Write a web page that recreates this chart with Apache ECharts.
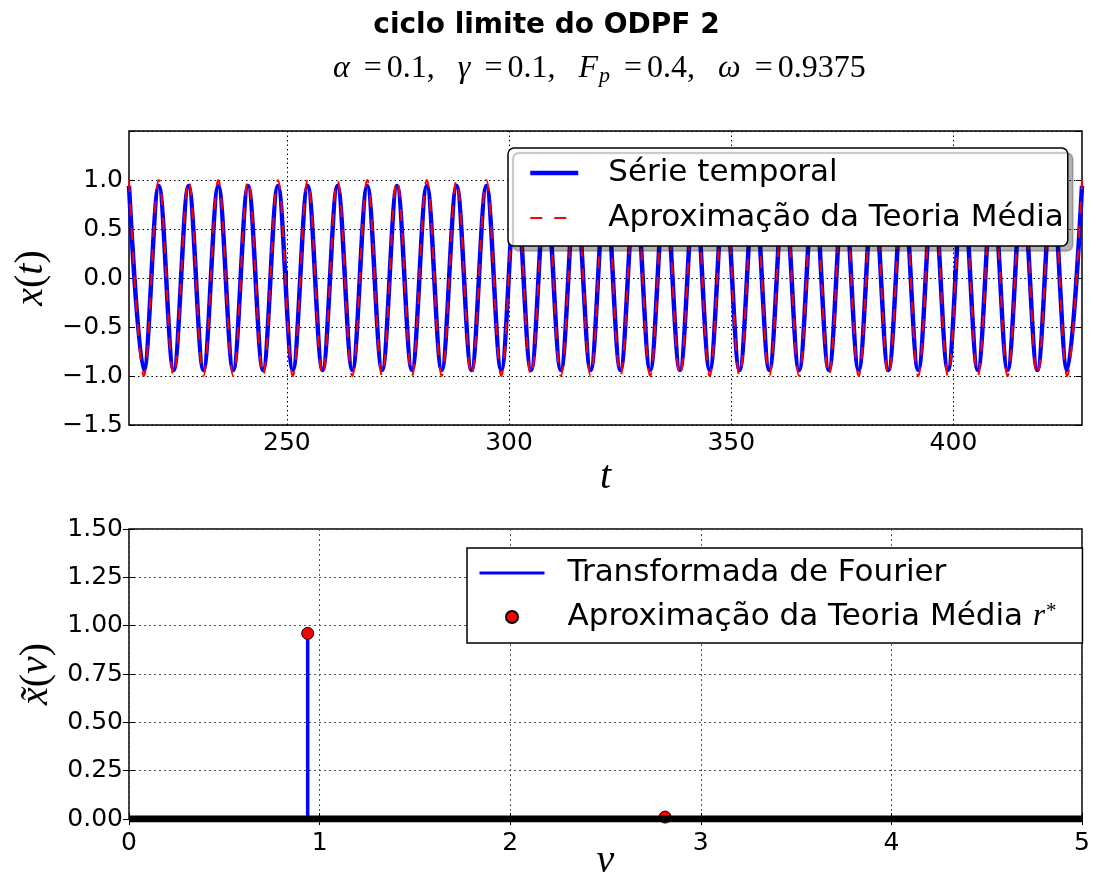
<!DOCTYPE html>
<html><head><meta charset="utf-8">
<script src="https://cdn.jsdelivr.net/npm/echarts@6/dist/echarts.min.js"></script>
<style>html,body{margin:0;padding:0;background:#fff}#c{width:1093px;height:880px}</style>
</head><body><div id="c"></div>
<script>
// ---- top panel: time series (times of successive maxima / minima) ----
const tExtrema = [
  214.47, 217.82, 221.17, 224.52, 227.87, 231.22, 234.57, 237.92, 241.27, 244.63,
  247.98, 251.33, 254.68, 258.03, 261.38, 264.73, 268.08, 271.43, 274.78, 278.14,
  281.49, 284.84, 288.19, 291.54, 294.89, 298.24, 301.59, 304.94, 308.30, 311.65,
  315.00, 318.35, 321.70, 325.05, 328.40, 331.75, 335.10, 338.45, 341.81, 345.16,
  348.51, 351.86, 355.21, 358.56, 361.91, 365.26, 368.61, 371.96, 375.32, 378.67,
  382.02, 385.37, 388.72, 392.07, 395.42, 398.77, 402.12, 405.48, 408.83, 412.18,
  415.53, 418.88, 422.23, 425.58, 428.93
];
const serieTemporal = [
  0.94,-0.94,0.94,-0.94,0.94,-0.94,0.94,-0.94,0.94,-0.94,
  0.94,-0.94,0.94,-0.94,0.94,-0.94,0.94,-0.94,0.94,-0.94,
  0.94,-0.94,0.94,-0.94,0.94,-0.94,0.94,-0.94,0.94,-0.94,
  0.94,-0.94,0.94,-0.94,0.94,-0.94,0.94,-0.94,0.94,-0.94,
  0.94,-0.94,0.94,-0.94,0.94,-0.94,0.94,-0.94,0.94,-0.94,
  0.94,-0.94,0.94,-0.94,0.94,-0.94,0.94,-0.94,0.94,-0.94,
  0.94,-0.94,0.94,-0.94,0.94
];
const aproxTeoriaMedia = [
  1.0,-1.0,1.0,-1.0,1.0,-1.0,1.0,-1.0,1.0,-1.0,
  1.0,-1.0,1.0,-1.0,1.0,-1.0,1.0,-1.0,1.0,-1.0,
  1.0,-1.0,1.0,-1.0,1.0,-1.0,1.0,-1.0,1.0,-1.0,
  1.0,-1.0,1.0,-1.0,1.0,-1.0,1.0,-1.0,1.0,-1.0,
  1.0,-1.0,1.0,-1.0,1.0,-1.0,1.0,-1.0,1.0,-1.0,
  1.0,-1.0,1.0,-1.0,1.0,-1.0,1.0,-1.0,1.0,-1.0,
  1.0,-1.0,1.0,-1.0,1.0
];
const tLimits = [214.47, 428.93];
const tTicks = [250, 300, 350, 400];
const xLimits = [-1.5, 1.5];
const xTicks = [-1.5, -1.0, -0.5, 0.0, 0.5, 1.0];

// ---- bottom panel: spectrum ----
const nuFourier = [0.9375, 0.9375];
const ampFourier = [0.0, 0.96];
const nuBase = [0, 5];
const ampBase = [0, 0];
const nuApprox = [0.9375, 2.8125];
const rApprox = [0.96, 0.01];
const nuLimits = [0, 5];
const ampLimits = [0, 1.5];

const zip = (a, b) => a.map((v, i) => [v, b[i]]);
const MINUS = '\u2212';
const tickFont = { fontFamily: 'DejaVu Sans', fontSize: 25, color: '#000' };
const mathName = size => ({
  fontFamily: 'Liberation Serif', fontSize: size, color: '#000', fontWeight: 'normal',
  rich: {
    i: { fontFamily: 'Liberation Serif', fontStyle: 'italic', fontWeight: 'normal', fontSize: size, color: '#000' },
    r: { fontFamily: 'Liberation Serif', fontWeight: 'normal', fontSize: size, color: '#000' }
  }
});

const chart = echarts.init(document.getElementById('c'), null, { renderer: 'canvas' });

const tickAxis = (grid, min, max, pos, interval, custom) => ({
  gridIndex: grid, type: 'value', min, max, interval, position: pos,
  axisLine: { show: false }, axisLabel: { show: false }, splitLine: { show: false },
  axisTick: Object.assign({ show: true, inside: true, length: 6, lineStyle: { color: '#000', width: 1 } },
    custom ? { customValues: custom } : {})
});

const subBase = { fontFamily: 'Liberation Serif', fontWeight: 'normal', fontSize: 32, color: '#000', lineHeight: 40 };
const subRich = {
  i: Object.assign({}, subBase, { fontStyle: 'italic' }),
  r: Object.assign({}, subBase),
  e: Object.assign({}, subBase, { padding: [0, 5, 0, 14] }),
  g: Object.assign({}, subBase, { padding: [0, 15, 0, 0] }),
  s: Object.assign({}, subBase, { fontStyle: 'italic', fontSize: 22, padding: [14, 0, 0, 1] })
};

const lineLegendItem = (name, width) => ({ name, itemStyle: { opacity: 0 }, lineStyle: { width } });

chart.setOption({
  animation: false,
  backgroundColor: '#fff',
  title: [
    { text: 'ciclo limite do ODPF 2', left: 'center', top: 7,
      textStyle: { fontFamily: 'DejaVu Sans', fontWeight: 'bold', fontSize: 28, color: '#000' } },
    { text: '{i|α}{e|=}{r|0.1,}{g| }{i|γ}{e|=}{r|0.1,}{g| }{i|F}{s|p}{e|=}{r|0.4,}{g| }{i|ω}{e|=}{r|0.9375}',
      left: 328, top: 44,
      textStyle: Object.assign({}, subBase, { rich: subRich }) }
  ],
  grid: [
    { left: 129, right: 11, top: 131, height: 294, show: true, borderColor: '#000', borderWidth: 1.5,
      backgroundColor: 'transparent', containLabel: false, outerBoundsMode: 'none' },
    { left: 129, right: 11, top: 529, height: 290, show: true, borderColor: '#000', borderWidth: 1.5,
      backgroundColor: 'transparent', containLabel: false, outerBoundsMode: 'none' }
  ],
  legend: [
    { data: [lineLegendItem('Série temporal', 4.5), lineLegendItem('Aproximação da Teoria Média', 2)],
      orient: 'vertical', left: 508, top: 148, selectedMode: false,
      padding: [7, 4, 10, 20], itemWidth: 48, itemHeight: 14, itemGap: 9,
      backgroundColor: '#fff', borderColor: '#000', borderWidth: 1.5, borderRadius: 6,
      shadowColor: 'rgba(0,0,0,0.3)', shadowOffsetX: 5, shadowOffsetY: 5, shadowBlur: 1,
      textStyle: { fontFamily: 'DejaVu Sans', fontSize: 31, color: '#000', lineHeight: 36, padding: [0, 0, 0, 25] } },
    { data: [lineLegendItem('Transformada de Fourier', 3), 'Aproximação da Teoria Média r*'],
      orient: 'vertical', left: 467, top: 548, selectedMode: false,
      padding: [7, 26, 8, 11], itemWidth: 65, itemHeight: 12, itemGap: 8,
      backgroundColor: '#fff', borderColor: '#000', borderWidth: 1.5, borderRadius: 0,
      formatter: name => name === 'Aproximação da Teoria Média r*'
        ? '{n|Aproximação da Teoria Média }{m|r}{s|*}' : name,
      textStyle: { fontFamily: 'DejaVu Sans', fontSize: 31, color: '#000', lineHeight: 36, padding: [0, 0, 0, 18],
        rich: {
          n: { fontFamily: 'DejaVu Sans', fontSize: 31, color: '#000', lineHeight: 36 },
          m: { fontFamily: 'Liberation Serif', fontStyle: 'italic', fontSize: 31, color: '#000', lineHeight: 36 },
          s: { fontFamily: 'Liberation Serif', fontSize: 21, color: '#000', lineHeight: 36, padding: [0, 0, 12, 1] }
        } } }
  ],
  xAxis: [
    { gridIndex: 0, type: 'value', min: tLimits[0], max: tLimits[1], position: 'bottom',
      axisLine: { show: false },
      axisTick: { show: true, inside: true, length: 6, customValues: tTicks, lineStyle: { color: '#000' } },
      axisLabel: Object.assign({ margin: 6, customValues: tTicks,
        formatter: v => (tTicks.indexOf(Math.round(v * 100) / 100) >= 0 ? String(v) : '') }, tickFont),
      splitLine: { show: true, lineStyle: { color: '#000', width: 1, type: [1.5, 3] } },
      name: '{i|t}', nameLocation: 'middle', nameGap: 32, nameTextStyle: mathName(40) },
    tickAxis(0, tLimits[0], tLimits[1], 'top', undefined, tTicks),
    { gridIndex: 1, type: 'value', min: nuLimits[0], max: nuLimits[1], interval: 1, position: 'bottom',
      axisLine: { show: false },
      axisTick: { show: true, inside: true, length: 6, lineStyle: { color: '#000' } },
      axisLabel: Object.assign({ margin: 12 }, tickFont),
      splitLine: { show: true, lineStyle: { color: '#555', width: 1, type: [2, 3] } },
      name: '{i|ν}', nameLocation: 'middle', nameGap: 22, nameMoveOverlap: false,
      nameTextStyle: mathName(40) },
    tickAxis(1, nuLimits[0], nuLimits[1], 'top', 1)
  ],
  yAxis: [
    { gridIndex: 0, type: 'value', min: xLimits[0], max: xLimits[1], interval: 0.5, position: 'left',
      axisLine: { show: false },
      axisTick: { show: true, inside: true, length: 6, lineStyle: { color: '#000' } },
      axisLabel: Object.assign({ margin: 6,
        formatter: v => (xTicks.indexOf(v) >= 0 ? v.toFixed(1).replace('-', MINUS) : '') }, tickFont),
      splitLine: { show: true, lineStyle: { color: '#000', width: 1, type: [1.5, 3] } },
      name: '{i|x}{r|(}{i|t}{r|)}', nameLocation: 'middle', nameRotate: 90, nameGap: 64,
      nameTextStyle: mathName(40) },
    tickAxis(0, xLimits[0], xLimits[1], 'right', 0.5),
    { gridIndex: 1, type: 'value', min: ampLimits[0], max: ampLimits[1], interval: 0.25, position: 'left',
      axisLine: { show: false },
      axisTick: { show: true, inside: true, length: 6, lineStyle: { color: '#000' } },
      axisLabel: Object.assign({ margin: 6, formatter: v => v.toFixed(2) }, tickFont),
      splitLine: { show: true, lineStyle: { color: '#555', width: 1, type: [2, 3] } },
      name: '{i|x̃}{r|(}{i|ν}{r|)}', nameLocation: 'middle', nameRotate: 90, nameGap: 64,
      nameTextStyle: mathName(40) },
    tickAxis(1, ampLimits[0], ampLimits[1], 'right', 0.25)
  ],
  series: [
    { name: 'Série temporal', type: 'line', xAxisIndex: 0, yAxisIndex: 0,
      data: zip(tExtrema, serieTemporal), smooth: 0.36, symbol: 'none', z: 2,
      lineStyle: { color: '#0000ff', width: 4.5 }, itemStyle: { color: '#0000ff' } },
    { name: 'Aproximação da Teoria Média', type: 'line', xAxisIndex: 0, yAxisIndex: 0,
      data: zip(tExtrema, aproxTeoriaMedia), smooth: 0.36, symbol: 'none', z: 3,
      lineStyle: { color: '#ff0000', width: 2, type: [12, 12] }, itemStyle: { color: '#ff0000' } },
    { name: 'Transformada de Fourier', type: 'line', xAxisIndex: 2, yAxisIndex: 2,
      data: zip(nuFourier, ampFourier), symbol: 'none', z: 2,
      lineStyle: { color: '#0000ff', width: 3.5 }, itemStyle: { color: '#0000ff' } },
    { name: 'Aproximação da Teoria Média r*', type: 'scatter', xAxisIndex: 2, yAxisIndex: 2,
      data: zip(nuApprox, rApprox), symbol: 'circle', symbolSize: 12, z: 3,
      itemStyle: { color: '#ff0000', borderColor: '#000', borderWidth: 1, opacity: 1 } },
    { name: 'baseline', type: 'line', xAxisIndex: 2, yAxisIndex: 2,
      data: zip(nuBase, ampBase), symbol: 'none', z: 4,
      lineStyle: { color: '#000', width: 7 } }
  ]
});
</script>
</body></html>
